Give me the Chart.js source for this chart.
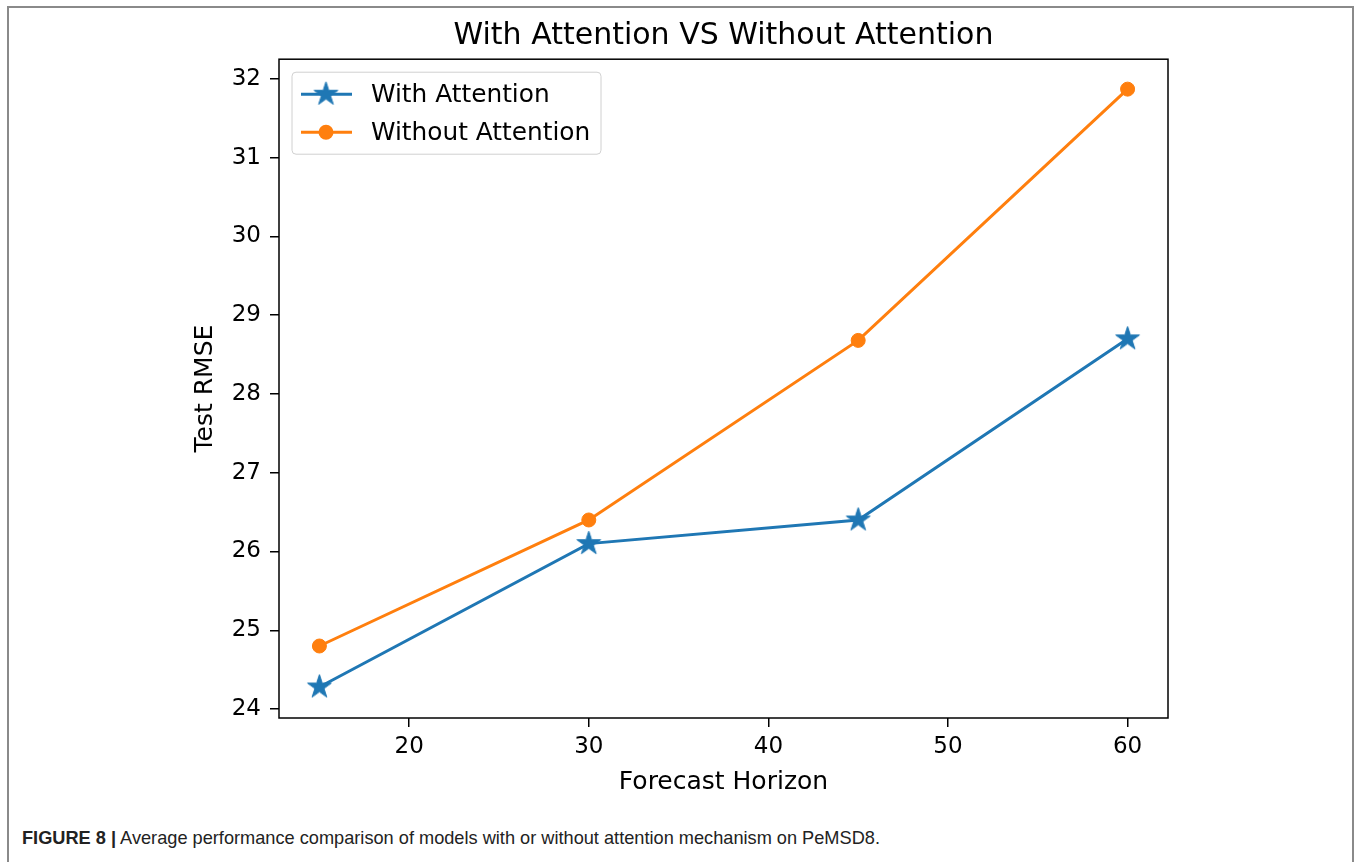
<!DOCTYPE html>
<html>
<head>
<meta charset="utf-8">
<script src="https://cdn.jsdelivr.net/npm/chart.js@4/dist/chart.umd.min.js"></script>
<style>
  html, body { margin: 0; padding: 0; background: #fff; }
  body { width: 1360px; height: 862px; position: relative; overflow: hidden; }
  #frame { position: absolute; left: 7px; top: 6px; width: 1347px; height: 900px;
           border: 2px solid #8a8a8a; box-sizing: border-box; }
  #wrap { position: absolute; left: 90px; top: 0; width: 1267px; height: 800px; }
  #caption { position: absolute; left: 22px; top: 828px; font-family: "Liberation Sans", Arial, sans-serif;
             font-size: 18.2px; color: #222; white-space: nowrap; }
  #caption b { font-weight: bold; }
</style>
</head>
<body>
<div id="frame"></div>
<div id="wrap"><canvas id="myChart"></canvas></div>
<div id="caption"><b>FIGURE 8 |</b> Average performance comparison of models with or without attention mechanism on PeMSD8.</div>
<script>
var horizons = [15, 30, 45, 60];
var withAttention = [24.28, 26.1, 26.4, 28.7];
var withoutAttention = [24.8, 26.4, 28.68, 31.87];
var yTicks = [24, 25, 26, 27, 28, 29, 30, 31, 32];

var blue = '#1f77b4';
var orange = '#ff7f0e';
var font = '"DejaVu Sans", sans-serif';

// filled five point star like matplotlib's '*' marker
function makeStar(r, color) {
  var c = document.createElement('canvas');
  var s = Math.ceil(r * 2 + 4);
  c.width = s; c.height = s;
  var g = c.getContext('2d');
  g.translate(s / 2, s / 2);
  g.beginPath();
  for (var i = 0; i < 10; i++) {
    var a = -Math.PI / 2 + i * Math.PI / 5;
    var rad = (i % 2) ? r * 0.381966 : r;
    if (i === 0) g.moveTo(rad * Math.cos(a), rad * Math.sin(a));
    else g.lineTo(rad * Math.cos(a), rad * Math.sin(a));
  }
  g.closePath();
  g.fillStyle = color;
  g.fill();
  g.lineWidth = 1;
  g.strokeStyle = color;
  g.stroke();
  return c;
}
var star = makeStar(12.5, blue);

function points(ys) {
  var out = [];
  for (var i = 0; i < horizons.length; i++) out.push({x: horizons[i], y: ys[i]});
  return out;
}

// axes frame + legend box drawn over the lines
var framePlugin = {
  id: 'frameLegend',
  afterDatasetsDraw: function(chart) {
    var ctx = chart.ctx, a = chart.chartArea;
    ctx.save();
    ctx.strokeStyle = '#000';
    ctx.lineWidth = 1.5;
    ctx.strokeRect(a.left, a.top, a.right - a.left, a.bottom - a.top);

    var bx = a.left + 13, by = a.top + 13, bw = 309, bh = 82, r = 4;
    ctx.beginPath();
    ctx.moveTo(bx + r, by);
    ctx.arcTo(bx + bw, by, bx + bw, by + bh, r);
    ctx.arcTo(bx + bw, by + bh, bx, by + bh, r);
    ctx.arcTo(bx, by + bh, bx, by, r);
    ctx.arcTo(bx, by, bx + bw, by, r);
    ctx.closePath();
    ctx.fillStyle = 'rgba(255,255,255,0.8)';
    ctx.fill();
    ctx.strokeStyle = '#d0d0d0';
    ctx.lineWidth = 1;
    ctx.stroke();

    var rows = [by + 22, by + 60];
    chart.data.datasets.forEach(function(ds, i) {
      var y = rows[i];
      ctx.strokeStyle = ds.borderColor;
      ctx.lineWidth = 3;
      ctx.beginPath();
      ctx.moveTo(a.left + 22, y);
      ctx.lineTo(a.left + 73, y);
      ctx.stroke();
      if (i === 0) {
        ctx.drawImage(star, a.left + 47 - star.width / 2, y - star.height / 2);
      } else {
        ctx.beginPath();
        ctx.arc(a.left + 47, y, 7.5, 0, Math.PI * 2);
        ctx.fillStyle = ds.backgroundColor;
        ctx.fill();
      }
      ctx.fillStyle = '#000';
      ctx.font = '24.8px ' + font;
      ctx.textBaseline = 'middle';
      ctx.textAlign = 'left';
      ctx.fillText(ds.label, a.left + 92, y + 1);
    });
    ctx.restore();
  }
};

var ctx = document.getElementById('myChart').getContext('2d');
var myChart = new Chart(ctx, {
  type: 'line',
  data: {
    datasets: [
      {
        label: 'With Attention',
        data: points(withAttention),
        borderColor: blue,
        backgroundColor: blue,
        borderWidth: 3,
        pointStyle: star,
        pointRadius: 12,
        fill: false,
        tension: 0
      },
      {
        label: 'Without Attention',
        data: points(withoutAttention),
        borderColor: orange,
        backgroundColor: orange,
        borderWidth: 3,
        pointStyle: 'circle',
        pointRadius: 7,
        pointBorderWidth: 1,
        fill: false,
        tension: 0
      }
    ]
  },
  options: {
    responsive: true,
    maintainAspectRatio: false,
    animation: false,
    layout: { padding: 0 },
    plugins: {
      legend: { display: false },
      tooltip: { enabled: false },
      title: {
        display: true,
        text: 'With Attention VS Without Attention',
        color: '#000',
        font: { family: font, size: 30, weight: 'normal' },
        padding: { top: 18, bottom: 5.2 }
      }
    },
    scales: {
      x: {
        type: 'linear',
        min: 12.75,
        max: 62.25,
        afterFit: function(s) { s.height = 82; },
        ticks: { stepSize: 10, includeBounds: false, color: '#000', padding: 6,
                 font: { family: font, size: 23 } },
        grid: { display: true, drawOnChartArea: false, drawTicks: true, tickLength: 9,
                color: '#000', lineWidth: 1.5 },
        border: { display: false },
        title: { display: true, text: 'Forecast Horizon', color: '#000',
                 font: { family: font, size: 25 }, padding: { top: 0, bottom: 3 } }
      },
      y: {
        type: 'linear',
        min: 23.886,
        max: 32.25,
        afterFit: function(s) { s.width = 189; },
        afterBuildTicks: function(s) { s.ticks = yTicks.map(function(v) { return {value: v}; }); },
        ticks: { color: '#000', padding: 9, font: { family: font, size: 23 } },
        grid: { display: true, drawOnChartArea: false, drawTicks: true, tickLength: 9,
                color: '#000', lineWidth: 1.5 },
        border: { display: false },
        title: { display: true, text: 'Test RMSE', color: '#000',
                 font: { family: font, size: 25 }, padding: { top: 100, bottom: 0 } }
      },
      y2: {
        type: 'linear',
        position: 'right',
        display: true,
        afterFit: function(s) { s.width = 189; },
        ticks: { display: false },
        grid: { display: false },
        border: { display: false }
      }
    }
  },
  plugins: [framePlugin]
});
</script>
</body>
</html>
